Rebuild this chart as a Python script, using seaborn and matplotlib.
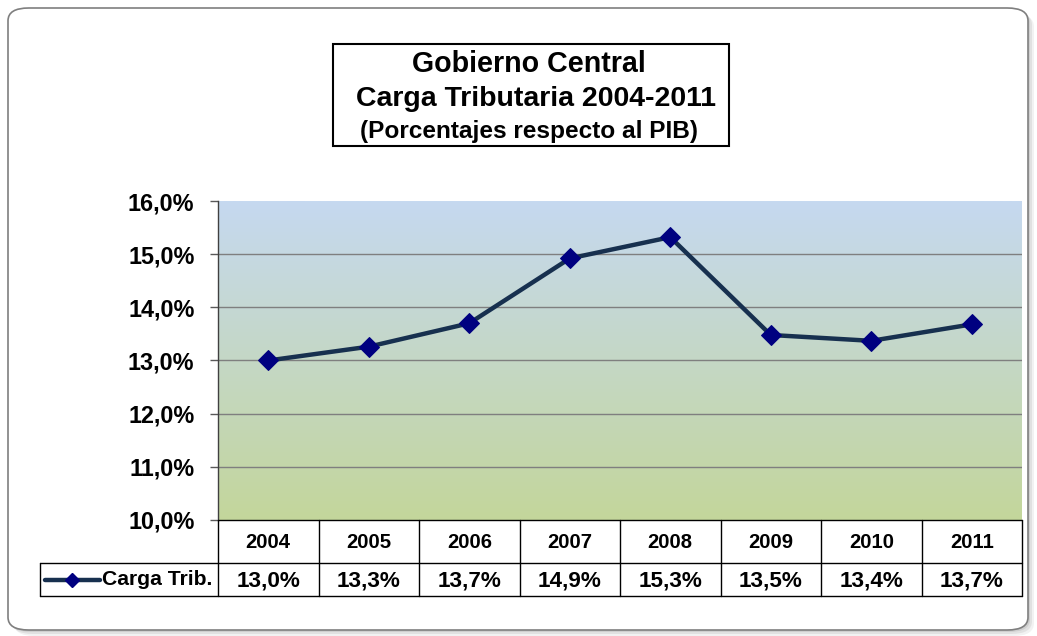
import numpy as np
import matplotlib
matplotlib.use("Agg")
import matplotlib.pyplot as plt
from matplotlib.patches import FancyBboxPatch, Rectangle
from matplotlib.lines import Line2D
import seaborn as sns

# data
years = ["2004", "2005", "2006", "2007", "2008", "2009", "2010", "2011"]
carga = [13.0, 13.26, 13.7, 14.92, 15.32, 13.48, 13.37, 13.68]
y_ticks = [10, 11, 12, 13, 14, 15, 16]
series_name = "Carga Trib."

sns.set_theme(style="white")
plt.rcParams['font.family'] = ['Liberation Sans', 'DejaVu Sans']
plt.rcParams['text.color'] = 'black'
plt.rcParams['ytick.labelcolor'] = 'black'

W, H = 1037, 636
fig = plt.figure(figsize=(W / 100, H / 100), dpi=100)
fig.patch.set_facecolor("white")

def fx(px):
    return px / W

def fy(py):
    return 1 - py / H

# outer rounded frame with a soft shadow
for i, a in enumerate([0.10, 0.14, 0.18]):
    off = 6 - 2 * i
    fig.patches.append(FancyBboxPatch((fx(8 + off), fy(630 + off)), fx(1020), 622 / H,
                                      boxstyle="round,pad=0,rounding_size=0.02",
                                      transform=fig.transFigure, facecolor="gray",
                                      edgecolor="none", alpha=a, zorder=0))
fig.patches.append(FancyBboxPatch((fx(8), fy(630)), fx(1020), 622 / H,
                                  boxstyle="round,pad=0,rounding_size=0.02",
                                  transform=fig.transFigure, facecolor="white",
                                  edgecolor="#7f7f7f", linewidth=1.2, zorder=1))

# title box
fig.patches.append(Rectangle((fx(333), fy(146)), fx(396), 102 / H, transform=fig.transFigure,
                             facecolor="white", edgecolor="black", linewidth=1.5, zorder=2))
fig.text(fx(529), fy(64), "Gobierno Central", ha="center", va="center",
         fontsize=20.6, fontweight="bold", zorder=3)
fig.text(fx(536), fy(99), "Carga Tributaria 2004-2011", ha="center", va="center",
         fontsize=20.5, fontweight="bold", zorder=3)
fig.text(fx(529), fy(132), "(Porcentajes respecto al PIB)", ha="center", va="center",
         fontsize=17.6, fontweight="bold", zorder=3)

# plot area
ax = fig.add_axes([fx(218), fy(520), fx(1022 - 218), (520 - 201) / H], zorder=5)
ax.set_facecolor("none")
x_pos = np.arange(len(years))
ax.set_xlim(-0.5, len(years) - 0.5)
ax.set_ylim(y_ticks[0], y_ticks[-1])

grad = np.linspace(0, 1, 256).reshape(-1, 1)
top_c = np.array([198, 217, 240]) / 255
bot_c = np.array([195, 214, 155]) / 255
img = top_c * (1 - grad[..., None]) + bot_c * grad[..., None]
img = img.reshape(256, 1, 3)
ax.imshow(img, extent=(-0.5, len(years) - 0.5, y_ticks[0], y_ticks[-1]),
          aspect="auto", zorder=0)

for t in y_ticks[1:-1]:
    ax.axhline(t, color="#7f7f7f", linewidth=1.0, zorder=1)

sns.lineplot(x=x_pos, y=carga, ax=ax, color="#17304f", linewidth=3.2,
             marker="D", markersize=10, markerfacecolor="#000080",
             markeredgecolor="#000080", zorder=3)

ax.set_yticks(y_ticks)
ax.set_yticklabels([f"{t:.1f}%".replace(".", ",") for t in y_ticks],
                   fontsize=16.8, fontweight="bold", color="black")
ax.tick_params(axis="y", length=6, width=1, color="#595959", pad=11, left=True)
ax.set_xticks([])
ax.set_xlabel("")
ax.set_ylabel("")
for s in ["top", "right", "bottom"]:
    ax.spines[s].set_visible(False)
ax.spines["left"].set_color("#404040")
ax.spines["left"].set_linewidth(1)

# data table under the axis
line_kw = dict(color="black", linewidth=1.0, transform=fig.transFigure, zorder=6)
x_left = 218
x_right = 1022
col_w = (x_right - x_left) / len(years)
row1_top, row1_bot, row2_bot = 520, 563, 596
fig.add_artist(Line2D([fx(x_left), fx(x_right)], [fy(row1_top)] * 2, **line_kw))
fig.add_artist(Line2D([fx(40), fx(x_right)], [fy(row1_bot)] * 2, **line_kw))
fig.add_artist(Line2D([fx(40), fx(x_right)], [fy(row2_bot)] * 2, **line_kw))
fig.add_artist(Line2D([fx(40), fx(40)], [fy(row1_bot), fy(row2_bot)], **line_kw))
for k in range(len(years) + 1):
    xx = x_left + k * col_w
    fig.add_artist(Line2D([fx(xx), fx(xx)], [fy(row1_top), fy(row2_bot)], **line_kw))
for k, (yr, v) in enumerate(zip(years, carga)):
    cx = x_left + (k + 0.5) * col_w
    fig.text(fx(cx), fy((row1_top + row1_bot) / 2 + 1), yr, ha="center", va="center",
             fontsize=14.6, fontweight="bold", zorder=7)
    fig.text(fx(cx), fy((row1_bot + row2_bot) / 2 + 1), f"{v:.1f}%".replace(".", ","),
             ha="center", va="center", fontsize=16.2, fontweight="bold", zorder=7)

# legend key in the table
ly = fy((row1_bot + row2_bot) / 2)
fig.add_artist(Line2D([fx(45), fx(100)], [ly, ly], color="#17304f", linewidth=3.2,
                      transform=fig.transFigure, zorder=7))
fig.add_artist(Line2D([fx(72)], [ly], marker="D", markersize=7, color="#000080",
                      transform=fig.transFigure, zorder=8))
fig.text(fx(102), ly, series_name, ha="left", va="center", fontsize=15.2,
         fontweight="bold", zorder=7)

fig.savefig("out.png", dpi=100)
